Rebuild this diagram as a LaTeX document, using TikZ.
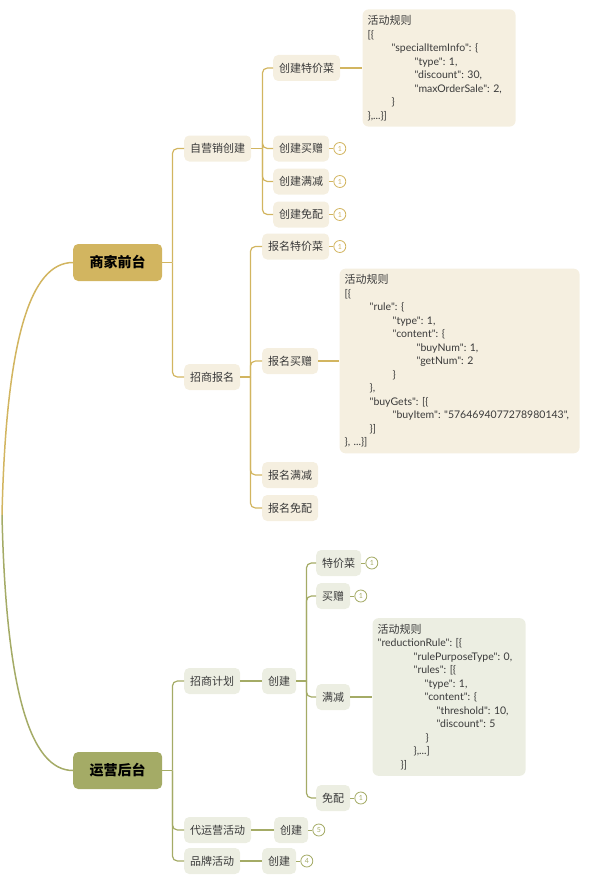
\documentclass[tikz,border=0pt]{standalone}
\usepackage{fontspec}
\setmainfont{Noto Sans CJK SC}
\newfontfamily\latin{Lato}
\usetikzlibrary{positioning}
\definecolor{gold}{RGB}{210,181,96}
\definecolor{olive}{RGB}{164,171,102}
\definecolor{cream}{RGB}{245,239,224}
\definecolor{sage}{RGB}{236,238,226}
\definecolor{ink}{RGB}{58,58,58}
\newcommand{\cn}[1]{{\rmfamily\fontsize{11}{13.5}\selectfont #1}}

\begin{document}
\begin{tikzpicture}[x=1pt, y=-1pt,
  main/.style={rounded corners=5pt, minimum width=89pt, minimum height=37pt, anchor=west, font=\fontsize{14}{16}\selectfont\bfseries},
  sub/.style={rounded corners=5pt, minimum height=26pt, inner xsep=6pt, anchor=west, text=ink, font=\fontsize{11}{13}\selectfont},
  note/.style={rounded corners=6pt, align=left, inner xsep=5pt, inner ysep=6pt, text=ink, font=\latin\fontsize{10.5}{13.5}\selectfont\frenchspacing},
  num/.style={circle, draw=#1, text=#1, fill=white, line width=0.8pt, minimum size=12pt, inner sep=0pt, font=\latin\fontsize{7}{7}\selectfont},
  gl/.style={gold, line width=1.2pt},
  ol/.style={olive, line width=1.2pt}
]
\useasboundingbox (0,0) rectangle (589,880);

\coordinate (root) at (2,515);
\node[main, fill=gold] (sjqt) at (73,262.5) {商家前台};
\node[main, fill=olive] (yyht) at (73,770.5) {运营后台};
\draw[gold, line width=1.5pt] (root) .. controls (6,340) and (30,262.5) .. (sjqt.west);
\draw[olive, line width=1.5pt] (root) .. controls (6,690) and (30,770.5) .. (yyht.west);

\node[sub, fill=cream] (zyx) at (184,148.5) {自营销创建};
\node[sub, fill=cream] (zsbm) at (184,377) {招商报名};
\draw[gl] (sjqt.east) -- ++(10,0) coordinate (sj0);
\draw[gl, rounded corners=5pt] (sj0) |- (zyx.west);
\draw[gl, rounded corners=5pt] (sj0) |- (zsbm.west);

\node[sub, fill=cream] (cjtj) at (273,68) {创建特价菜};
\node[sub, fill=cream] (cjmz) at (273,148.5) {创建买赠};
\node[sub, fill=cream] (cjmj) at (273,181.5) {创建满减};
\node[sub, fill=cream] (cjmp) at (273,214.5) {创建免配};
\draw[gl] (zyx.east) -- ++(11,0) coordinate (zy0);
\draw[gl, rounded corners=5pt] (zy0) |- (cjtj.west);
\draw[gl, rounded corners=5pt] (zy0) |- (cjmz.west);
\draw[gl, rounded corners=5pt] (zy0) |- (cjmj.west);
\draw[gl, rounded corners=5pt] (zy0) |- (cjmp.west);

\node[note, fill=cream, text width=143pt, right=22pt of cjtj] (gz1) {\cn{活动规则}\\{}[\{\\
\hspace*{24pt}"specialItemInfo": \{\\
\hspace*{47pt}"type": 1,\\
\hspace*{47pt}"discount": 30,\\
\hspace*{47pt}"maxOrderSale": 2,\\
\hspace*{24pt}\}\\
\},...\}]};
\draw[gl] (cjtj) -- (gz1);

\node[num=gold, right=4pt of cjmz] (c1) {1};
\node[num=gold, right=4pt of cjmj] (c2) {1};
\node[num=gold, right=4pt of cjmp] (c3) {1};
\draw[gold, line width=0.8pt] (cjmz) -- (c1);
\draw[gold, line width=0.8pt] (cjmj) -- (c2);
\draw[gold, line width=0.8pt] (cjmp) -- (c3);

\node[sub, fill=cream] (bmtj) at (262,246.5) {报名特价菜};
\node[sub, fill=cream] (bmmz) at (262,361) {报名买赠};
\node[sub, fill=cream] (bmmj) at (262,475) {报名满减};
\node[sub, fill=cream] (bmmp) at (262,508) {报名免配};
\draw[gl] (zsbm.east) -- ++(10,0) coordinate (zs0);
\draw[gl, rounded corners=5pt] (zs0) |- (bmtj.west);
\draw[gl, rounded corners=5pt] (zs0) |- (bmmz.west);
\draw[gl, rounded corners=5pt] (zs0) |- (bmmj.west);
\draw[gl, rounded corners=5pt] (zs0) |- (bmmp.west);

\node[num=gold, right=4pt of bmtj] (c4) {1};
\draw[gold, line width=0.8pt] (bmtj) -- (c4);

\node[note, fill=cream, text width=230pt, right=21pt of bmmz] (gz2) {\cn{活动规则}\\{}[\{\\
\hspace*{25pt}"rule": \{\\
\hspace*{48pt}"type": 1,\\
\hspace*{48pt}"content": \{\\
\hspace*{72pt}"buyNum": 1,\\
\hspace*{72pt}"getNum": 2\\
\hspace*{48pt}\}\\
\hspace*{25pt}\},\\
\hspace*{25pt}"buyGets": [\{\\
\hspace*{48pt}"buyItem":~"5764694077278980143",\\
\hspace*{25pt}\}]\\
\}, ...\}]};
\draw[gl] (bmmz) -- (gz2);

\node[sub, fill=sage] (zsjh) at (184,681) {招商计划};
\node[sub, fill=sage] (dyy) at (184,830) {代运营活动};
\node[sub, fill=sage] (pphd) at (184,861) {品牌活动};
\draw[ol] (yyht.east) -- ++(10,0) coordinate (yy0);
\draw[ol, rounded corners=5pt] (yy0) |- (zsjh.west);
\draw[ol, rounded corners=5pt] (yy0) |- (dyy.west);
\draw[ol, rounded corners=5pt] (yy0) |- (pphd.west);

\node[sub, fill=sage] (cj1) at (262,681) {创建};
\node[sub, fill=sage] (cj2) at (274,830) {创建};
\node[sub, fill=sage] (cj3) at (262,861) {创建};
\draw[ol] (zsjh) -- (cj1);
\draw[ol] (dyy) -- (cj2);
\draw[ol] (pphd) -- (cj3);
\node[num=olive, right=4pt of cj2] (c5) {5};
\node[num=olive, right=4pt of cj3] (c6) {4};
\draw[olive, line width=0.8pt] (cj2) -- (c5);
\draw[olive, line width=0.8pt] (cj3) -- (c6);

\node[sub, fill=sage] (tjc) at (316,563) {特价菜};
\node[sub, fill=sage] (mz) at (316,596) {买赠};
\node[sub, fill=sage] (mj) at (316,697) {满减};
\node[sub, fill=sage] (mp) at (316,798) {免配};
\draw[ol] (cj1.east) -- ++(10,0) coordinate (cj0);
\draw[ol, rounded corners=5pt] (cj0) |- (tjc.west);
\draw[ol, rounded corners=5pt] (cj0) |- (mz.west);
\draw[ol, rounded corners=5pt] (cj0) |- (mj.west);
\draw[ol, rounded corners=5pt] (cj0) |- (mp.west);

\node[num=olive, right=4pt of tjc] (c7) {1};
\node[num=olive, right=4pt of mz] (c8) {1};
\node[num=olive, right=4pt of mp] (c9) {1};
\draw[olive, line width=0.8pt] (tjc) -- (c7);
\draw[olive, line width=0.8pt] (mz) -- (c8);
\draw[olive, line width=0.8pt] (mp) -- (c9);

\node[note, fill=sage, text width=143pt, right=22pt of mj] (gz3) {\cn{活动规则}\\
"reductionRule": [\{\\
\hspace*{36pt}"rulePurposeType": 0,\\
\hspace*{36pt}"rules": [\{\\
\hspace*{47pt}"type": 1,\\
\hspace*{47pt}"content": \{\\
\hspace*{59pt}"threshold": 10,\\
\hspace*{59pt}"discount": 5\\
\hspace*{48pt}\}\\
\hspace*{36pt}\},...]\\
\hspace*{23pt}\}]};
\draw[ol] (mj) -- (gz3);

\end{tikzpicture}
\end{document}
